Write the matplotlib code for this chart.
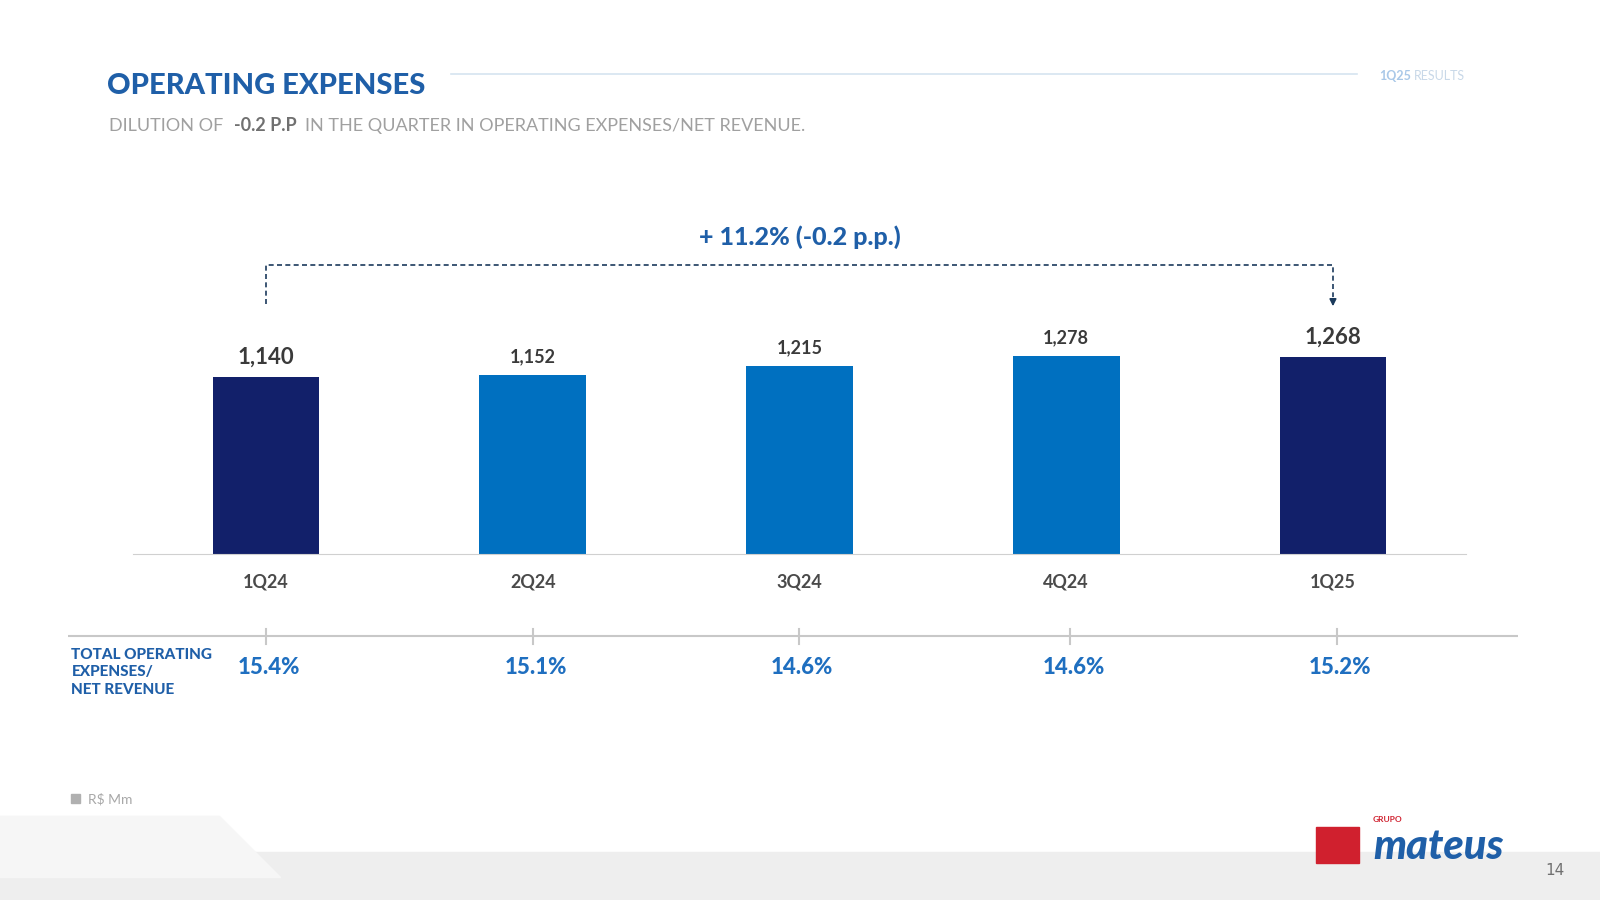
import matplotlib
matplotlib.use("Agg")
import matplotlib.pyplot as plt
from matplotlib.patches import Polygon, Rectangle

quarters = ["1Q24", "2Q24", "3Q24", "4Q24", "1Q25"]
opex = [1140, 1152, 1215, 1278, 1268]
opex_labels = ["1,140", "1,152", "1,215", "1,278", "1,268"]
ratio_labels = ["15.4%", "15.1%", "14.6%", "14.6%", "15.2%"]
bar_colors = ["#12206A", "#0070C0", "#0070C0", "#0070C0", "#12206A"]

W, H = 1568, 882
def fx(px): return px / W
def fy(py): return 1 - py / H

FONT = "Lato"
fig = plt.figure(figsize=(16, 9), dpi=100)
fig.patch.set_facecolor("white")

bg = fig.add_axes([0, 0, 1, 1], zorder=-5)
bg.set_xlim(0, W); bg.set_ylim(H, 0); bg.axis("off")
bg.add_patch(Polygon([[0, 835], [W, 835], [W, H], [0, H]], color="#EEEEEE"))
bg.add_patch(Polygon([[0, 800], [215, 800], [275, 860], [0, 860]], color="#F6F6F6"))
bg.plot([442, 1330], [73, 73], color="#D6E4F0", lw=1.2)

fig.text(fx(105), fy(84), "OPERATING EXPENSES", fontsize=21, fontweight="heavy",
         color="#1F5FA8", family=FONT, va="center")
fig.text(fx(1352), fy(74), "1Q25", fontsize=9, fontweight="bold", color="#A9C8E8",
         family=FONT, va="center")
fig.text(fx(1386), fy(74), "RESULTS", fontsize=9, color="#C8D8E8", family=FONT, va="center")
fig.text(fx(107), fy(123), "DILUTION OF", fontsize=13, color="#A0A0A0", family=FONT, va="center")
fig.text(fx(229), fy(123), "-0.2 P.P", fontsize=13, color="#707070", fontweight="bold",
         family=FONT, va="center")
fig.text(fx(299), fy(123), "IN THE QUARTER IN OPERATING EXPENSES/NET REVENUE.", fontsize=13,
         color="#A0A0A0", family=FONT, va="center")

ax = fig.add_axes([fx(130), fy(543), fx(1437) - fx(130), fy(315) - fy(543)])
x = list(range(len(quarters)))
ax.bar(x, opex, width=0.4, color=bar_colors)
ax.set_xlim(-0.5, 4.5)
ax.set_ylim(0, 1500)
for s in ["top", "right", "left"]:
    ax.spines[s].set_visible(False)
ax.spines["bottom"].set_color("#D0D0D0")
ax.set_yticks([])
ax.set_xticks(x)
ax.set_xticklabels(quarters, fontsize=13, fontweight="bold", color="#4A4A4A", family=FONT)
ax.tick_params(axis="x", length=0, pad=14)
for i, (v, lab) in enumerate(zip(opex, opex_labels)):
    big = i in (0, 4)
    ax.annotate(lab, (i, v), xytext=(0, 7), textcoords="offset points", ha="center",
                va="bottom", fontsize=16 if big else 13, fontweight="bold",
                color="#3A3A3A", family=FONT)

ytop = 1865
ax.plot([0, 0, 4, 4], [1610, ytop, ytop, 1660], ls=(0, (3, 2)), color="#1B3A5C",
        lw=1.2, clip_on=False)
ax.annotate("", xy=(4, 1580), xytext=(4, 1665),
            arrowprops=dict(arrowstyle="-|>", color="#1B3A5C", lw=1.2), annotation_clip=False)
ax.text(2, 1970, "+ 11.2% (-0.2 p.p.)", ha="center", va="bottom", fontsize=18,
        fontweight="heavy", color="#1F5FA8", family=FONT, clip_on=False)

tab = fig.add_axes([fx(67), fy(700), fx(1488) - fx(67), fy(600) - fy(700)])
tab.set_xlim(67, 1488); tab.set_ylim(700, 600); tab.axis("off")
tab.plot([67, 1488], [623, 623], color="#C8C8C8", lw=1.5)
centers = [261, 522, 783, 1049, 1310]
for cx, lab in zip(centers, ratio_labels):
    tab.plot([cx, cx], [616, 631], color="#C8C8C8", lw=1.5)
    tab.text(cx + 3, 654, lab, ha="center", va="center", fontsize=16, fontweight="heavy",
             color="#1F6FC0", family=FONT)
tab.text(70, 659, "TOTAL OPERATING\nEXPENSES/\nNET REVENUE", ha="left", va="center",
         fontsize=11, fontweight="heavy", color="#1F5FA8", family=FONT, linespacing=1.3)

bg.add_patch(Rectangle((70, 778), 8, 9, color="#B0B0B0"))
bg.text(86, 783, "R$ Mm", fontsize=10, color="#A8A8A8", family=FONT, va="center")
bg.add_patch(Rectangle((1290, 810), 42, 36, color="#D0202E"))
bg.text(1410, 830, "mateus", fontsize=30, fontweight="heavy", style="italic",
        color="#1F5FA8", family=FONT, ha="center", va="center")
bg.text(1345, 806, "GRUPO", fontsize=6, fontweight="bold", color="#D0202E", family=FONT)
bg.text(1524, 853, "14", fontsize=11, color="#707070", family="DejaVu Sans", ha="center", va="center")

fig.savefig("out.png", dpi=100, facecolor="white")
